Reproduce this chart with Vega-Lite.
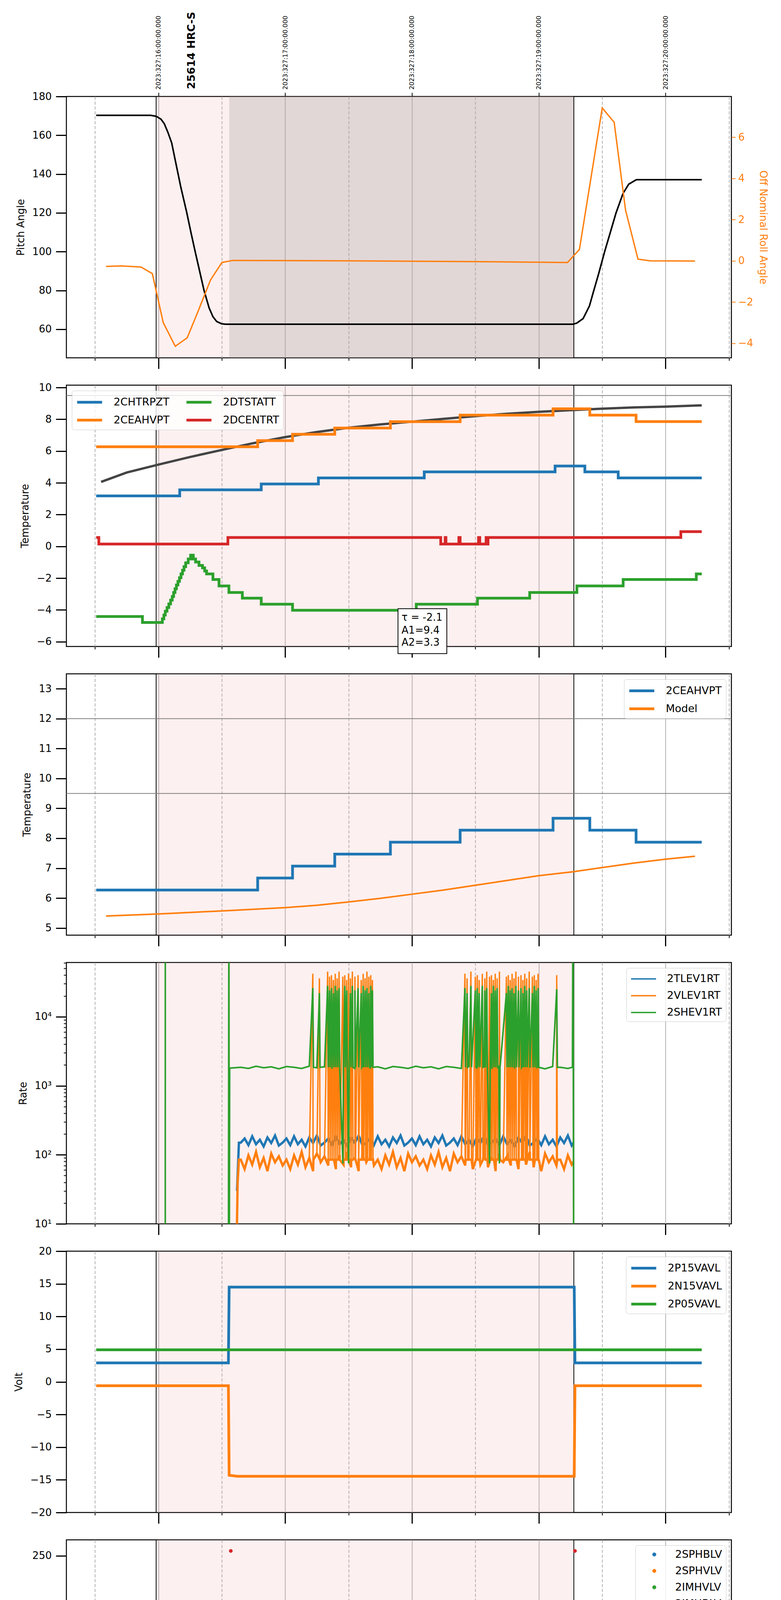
{
  "$schema": "https://vega.github.io/schema/vega-lite/v6.json",
  "padding": {"left": 30, "top": 29, "right": 5, "bottom": 5},
  "spacing": 70,
  "bounds": "flush",
  "config": {
    "font": "DejaVu Sans",
    "view": {"stroke": "black", "strokeWidth": 2.5},
    "axis": {"labelFont": "DejaVu Sans", "titleFont": "DejaVu Sans", "labelFontSize": 26, "titleFontSize": 26, "titleFontWeight": "normal", "labelColor": "black", "titleColor": "black", "tickColor": "black", "tickSize": 27, "tickWidth": 3, "labelPadding": 11, "titlePadding": 16, "domain": false, "grid": false, "labelFlush": false, "labelOverlap": false, "labelLimit": 400},
    "legend": {"labelFont": "DejaVu Sans", "labelFontSize": 27, "labelColor": "black", "symbolType": "M-2,0L2,0", "symbolStrokeWidth": 7, "symbolSize": 1024, "symbolOffset": 16, "padding": 10, "rowPadding": 12, "strokeColor": "#cccccc", "fillColor": "rgba(255,255,255,0.8)", "cornerRadius": 6, "offset": 14, "labelOffset": 42, "orient": "top-right", "labelLimit": 400},
    "text": {"font": "DejaVu Sans"}
  },
  "resolve": {"scale": {"color": "independent"}, "legend": {"color": "independent"}},
  "datasets": {
    "shade": [{"a": 15.982, "b": 19.277}],
    "dark": [{"a": 16.558, "b": 19.277}],
    "vlines": [{"t": 15.982}, {"t": 19.277}],
    "p1_label": [{"t": 16.264, "v": 183.8, "label": "25614 HRC-S"}],
    "p1_pitch": [{"t":15.509,"v":170.3},{"t":15.94,"v":170.3},{"t":15.982,"v":169.8},{"t":16.02,"v":168.3},{"t":16.046,"v":166},{"t":16.075,"v":161.5},{"t":16.105,"v":156},{"t":16.13,"v":148},{"t":16.176,"v":133.5},{"t":16.223,"v":120.3},{"t":16.258,"v":109.5},{"t":16.29,"v":100},{"t":16.325,"v":90},{"t":16.36,"v":80},{"t":16.4,"v":71},{"t":16.43,"v":66.5},{"t":16.46,"v":64},{"t":16.5,"v":62.8},{"t":16.53,"v":62.6},{"t":19.27,"v":62.6},{"t":19.3,"v":63.2},{"t":19.35,"v":65.5},{"t":19.4,"v":72},{"t":19.43,"v":79},{"t":19.47,"v":88},{"t":19.52,"v":100},{"t":19.565,"v":110},{"t":19.61,"v":120},{"t":19.665,"v":130},{"t":19.71,"v":134.8},{"t":19.77,"v":137.1},{"t":20.286,"v":137.1}],
    "p1_roll": [{"t":15.587,"v":-0.27},{"t":15.705,"v":-0.25},{"t":15.862,"v":-0.3},{"t":15.952,"v":-0.62},{"t":16.038,"v":-3.0},{"t":16.133,"v":-4.15},{"t":16.227,"v":-3.74},{"t":16.313,"v":-2.45},{"t":16.411,"v":-0.93},{"t":16.501,"v":-0.08},{"t":16.587,"v":0.02},{"t":17.5,"v":0.0},{"t":18.5,"v":-0.04},{"t":19.227,"v":-0.08},{"t":19.321,"v":0.55},{"t":19.501,"v":7.42},{"t":19.595,"v":6.73},{"t":19.685,"v":2.46},{"t":19.783,"v":0.08},{"t":19.88,"v":0.0},{"t":20.233,"v":-0.01}],
    "p2_lim": [{"v": 9.5}],
    "p2_model": [{"t":15.548,"v":4.06},{"t":15.75,"v":4.65},{"t":16.0,"v":5.15},{"t":16.25,"v":5.63},{"t":16.5,"v":6.07},{"t":16.75,"v":6.5},{"t":17.0,"v":6.88},{"t":17.25,"v":7.2},{"t":17.5,"v":7.47},{"t":17.75,"v":7.68},{"t":18.0,"v":7.85},{"t":18.25,"v":8.03},{"t":18.5,"v":8.2},{"t":18.75,"v":8.35},{"t":19.0,"v":8.47},{"t":19.27,"v":8.58},{"t":19.5,"v":8.67},{"t":19.75,"v":8.75},{"t":20.0,"v":8.8},{"t":20.286,"v":8.88}],
    "p2_chtrpzt": [{"t":15.509,"v":3.18},{"t":16.168,"v":3.56},{"t":16.811,"v":3.93},{"t":17.262,"v":4.31},{"t":18.097,"v":4.69},{"t":19.129,"v":5.06},{"t":19.364,"v":4.69},{"t":19.627,"v":4.31},{"t":20.286,"v":4.31}],
    "p2_ceahvpt": [{"t":15.509,"v":6.27},{"t":16.783,"v":6.66},{"t":17.058,"v":7.06},{"t":17.391,"v":7.45},{"t":17.83,"v":7.85},{"t":18.38,"v":8.26},{"t":19.113,"v":8.66},{"t":19.403,"v":8.26},{"t":19.768,"v":7.86},{"t":20.286,"v":7.86}],
    "p2_dtstatt": [{"t":15.509,"v":-4.41},{"t":15.874,"v":-4.79},{"t":16.031,"v":-4.56},{"t":16.043,"v":-4.32},{"t":16.054,"v":-4.08},{"t":16.068,"v":-3.85},{"t":16.082,"v":-3.62},{"t":16.096,"v":-3.38},{"t":16.109,"v":-3.15},{"t":16.12,"v":-2.9},{"t":16.131,"v":-2.67},{"t":16.142,"v":-2.43},{"t":16.154,"v":-2.2},{"t":16.166,"v":-1.97},{"t":16.178,"v":-1.73},{"t":16.19,"v":-1.5},{"t":16.202,"v":-1.27},{"t":16.215,"v":-1.03},{"t":16.235,"v":-0.79},{"t":16.254,"v":-0.55},{"t":16.275,"v":-0.79},{"t":16.293,"v":-0.98},{"t":16.32,"v":-1.2},{"t":16.348,"v":-1.35},{"t":16.365,"v":-1.55},{"t":16.38,"v":-1.73},{"t":16.43,"v":-2.08},{"t":16.478,"v":-2.49},{"t":16.556,"v":-2.9},{"t":16.662,"v":-3.26},{"t":16.811,"v":-3.64},{"t":17.058,"v":-4.02},{"t":18.034,"v":-3.64},{"t":18.517,"v":-3.26},{"t":18.929,"v":-2.9},{"t":19.301,"v":-2.49},{"t":19.666,"v":-2.08},{"t":20.243,"v":-1.73},{"t":20.286,"v":-1.73}],
    "p2_dcentrt": [{"t":15.509,"v":0.56},{"t":15.53,"v":0.15},{"t":16.548,"v":0.56},{"t":18.227,"v":0.15},{"t":18.262,"v":0.56},{"t":18.268,"v":0.15},{"t":18.37,"v":0.56},{"t":18.38,"v":0.15},{"t":18.525,"v":0.56},{"t":18.535,"v":0.15},{"t":18.585,"v":0.56},{"t":18.59,"v":0.15},{"t":18.6,"v":0.56},{"t":20.121,"v":0.93},{"t":20.286,"v":0.93}],
    "p2_box": [{"t": 17.89, "t2": 18.275, "v": -3.92, "v2": -6.75}],
    "p2_note": [{"t": 17.918, "v": -4.49, "label": "τ = -2.1"}, {"t": 17.918, "v": -5.28, "label": "A1=9.4"}, {"t": 17.918, "v": -6.06, "label": "A2=3.3"}],
    "p3_lim": [{"v": 12}, {"v": 9.5}],
    "p3_ceahvpt": [{"t":15.509,"v":6.27},{"t":16.783,"v":6.67},{"t":17.058,"v":7.07},{"t":17.391,"v":7.47},{"t":17.83,"v":7.87},{"t":18.38,"v":8.27},{"t":19.113,"v":8.67},{"t":19.403,"v":8.27},{"t":19.768,"v":7.87},{"t":20.286,"v":7.87}],
    "p3_model": [{"t":15.587,"v":5.4},{"t":16.0,"v":5.47},{"t":16.5,"v":5.57},{"t":17.0,"v":5.68},{"t":17.25,"v":5.76},{"t":17.5,"v":5.87},{"t":17.75,"v":5.99},{"t":18.0,"v":6.13},{"t":18.25,"v":6.27},{"t":18.5,"v":6.43},{"t":18.75,"v":6.59},{"t":19.0,"v":6.75},{"t":19.27,"v":6.88},{"t":19.5,"v":7.02},{"t":19.75,"v":7.17},{"t":20.0,"v":7.3},{"t":20.233,"v":7.4}],
    "p4_tlev": [{"t":16.62,"v":30},{"t":16.635,"v":150},{"t":16.65,"v":150},{"t":16.68,"v":172},{"t":16.71,"v":138},{"t":16.74,"v":185},{"t":16.77,"v":142},{"t":16.8,"v":165},{"t":16.83,"v":132},{"t":16.86,"v":178},{"t":16.89,"v":148},{"t":16.92,"v":190},{"t":16.95,"v":136},{"t":16.98,"v":150},{"t":17.01,"v":172},{"t":17.04,"v":138},{"t":17.07,"v":185},{"t":17.1,"v":142},{"t":17.13,"v":165},{"t":17.16,"v":132},{"t":17.19,"v":178},{"t":17.22,"v":148},{"t":17.25,"v":190},{"t":17.28,"v":136},{"t":17.31,"v":150},{"t":17.34,"v":172},{"t":17.37,"v":138},{"t":17.4,"v":185},{"t":17.43,"v":142},{"t":17.46,"v":165},{"t":17.49,"v":132},{"t":17.52,"v":178},{"t":17.55,"v":148},{"t":17.58,"v":190},{"t":17.61,"v":136},{"t":17.64,"v":150},{"t":17.67,"v":172},{"t":17.7,"v":138},{"t":17.73,"v":185},{"t":17.76,"v":142},{"t":17.79,"v":165},{"t":17.82,"v":132},{"t":17.85,"v":178},{"t":17.88,"v":148},{"t":17.91,"v":190},{"t":17.94,"v":136},{"t":17.97,"v":150},{"t":18.0,"v":172},{"t":18.03,"v":138},{"t":18.06,"v":185},{"t":18.09,"v":142},{"t":18.12,"v":165},{"t":18.15,"v":132},{"t":18.18,"v":178},{"t":18.21,"v":148},{"t":18.24,"v":190},{"t":18.27,"v":136},{"t":18.3,"v":150},{"t":18.33,"v":172},{"t":18.36,"v":138},{"t":18.39,"v":185},{"t":18.42,"v":142},{"t":18.45,"v":165},{"t":18.48,"v":132},{"t":18.51,"v":178},{"t":18.54,"v":148},{"t":18.57,"v":190},{"t":18.6,"v":136},{"t":18.63,"v":150},{"t":18.66,"v":172},{"t":18.69,"v":138},{"t":18.72,"v":185},{"t":18.75,"v":142},{"t":18.78,"v":165},{"t":18.81,"v":132},{"t":18.84,"v":178},{"t":18.87,"v":148},{"t":18.9,"v":190},{"t":18.93,"v":136},{"t":18.96,"v":150},{"t":18.99,"v":172},{"t":19.02,"v":138},{"t":19.05,"v":185},{"t":19.08,"v":142},{"t":19.11,"v":165},{"t":19.14,"v":132},{"t":19.17,"v":178},{"t":19.2,"v":148},{"t":19.23,"v":190},{"t":19.26,"v":136},{"t":19.274,"v":150}],
    "p4_vlev": [{"t":16.615,"v":3},{"t":16.625,"v":40},{"t":16.635,"v":85},{"t":16.65,"v":85},{"t":16.68,"v":62},{"t":16.71,"v":98},{"t":16.74,"v":72},{"t":16.77,"v":110},{"t":16.8,"v":66},{"t":16.83,"v":90},{"t":16.86,"v":58},{"t":16.89,"v":104},{"t":16.92,"v":78},{"t":16.95,"v":95},{"t":16.98,"v":70},{"t":17.01,"v":85},{"t":17.04,"v":62},{"t":17.07,"v":98},{"t":17.1,"v":72},{"t":17.13,"v":110},{"t":17.16,"v":66},{"t":17.19,"v":90},{"t":17.22,"v":58},{"t":17.25,"v":104},{"t":17.28,"v":78},{"t":17.31,"v":95},{"t":17.34,"v":70},{"t":17.37,"v":85},{"t":17.4,"v":62},{"t":17.43,"v":98},{"t":17.46,"v":72},{"t":17.49,"v":110},{"t":17.52,"v":66},{"t":17.55,"v":90},{"t":17.58,"v":58},{"t":17.61,"v":104},{"t":17.64,"v":78},{"t":17.67,"v":95},{"t":17.7,"v":70},{"t":17.73,"v":85},{"t":17.76,"v":62},{"t":17.79,"v":98},{"t":17.82,"v":72},{"t":17.85,"v":110},{"t":17.88,"v":66},{"t":17.91,"v":90},{"t":17.94,"v":58},{"t":17.97,"v":104},{"t":18.0,"v":78},{"t":18.03,"v":95},{"t":18.06,"v":70},{"t":18.09,"v":85},{"t":18.12,"v":62},{"t":18.15,"v":98},{"t":18.18,"v":72},{"t":18.21,"v":110},{"t":18.24,"v":66},{"t":18.27,"v":90},{"t":18.3,"v":58},{"t":18.33,"v":104},{"t":18.36,"v":78},{"t":18.39,"v":95},{"t":18.42,"v":70},{"t":18.45,"v":85},{"t":18.48,"v":62},{"t":18.51,"v":98},{"t":18.54,"v":72},{"t":18.57,"v":110},{"t":18.6,"v":66},{"t":18.63,"v":90},{"t":18.66,"v":58},{"t":18.69,"v":104},{"t":18.72,"v":78},{"t":18.75,"v":95},{"t":18.78,"v":70},{"t":18.81,"v":85},{"t":18.84,"v":62},{"t":18.87,"v":98},{"t":18.9,"v":72},{"t":18.93,"v":110},{"t":18.96,"v":66},{"t":18.99,"v":90},{"t":19.02,"v":58},{"t":19.05,"v":104},{"t":19.08,"v":78},{"t":19.11,"v":95},{"t":19.14,"v":70},{"t":19.17,"v":85},{"t":19.2,"v":62},{"t":19.23,"v":98},{"t":19.26,"v":72},{"t":19.274,"v":80},
      {"t":17.218,"v":42000},{"t":17.223,"v":85},{"t":17.27,"v":36000},{"t":17.275,"v":85},{"t":17.335,"v":45000},{"t":17.34,"v":85},{"t":17.35,"v":38000},{"t":17.355,"v":85},{"t":17.365,"v":40000},{"t":17.37,"v":85},{"t":17.38,"v":34000},{"t":17.385,"v":85},{"t":17.395,"v":42000},{"t":17.4,"v":85},{"t":17.41,"v":36000},{"t":17.415,"v":85},{"t":17.425,"v":45000},{"t":17.43,"v":85},{"t":17.455,"v":38000},{"t":17.46,"v":85},{"t":17.47,"v":40000},{"t":17.475,"v":85},{"t":17.485,"v":34000},{"t":17.49,"v":85},{"t":17.5,"v":42000},{"t":17.505,"v":85},{"t":17.515,"v":36000},{"t":17.52,"v":85},{"t":17.53,"v":45000},{"t":17.535,"v":85},{"t":17.55,"v":38000},{"t":17.555,"v":85},{"t":17.575,"v":40000},{"t":17.58,"v":85},{"t":17.6,"v":34000},{"t":17.605,"v":85},{"t":17.615,"v":42000},{"t":17.62,"v":85},{"t":17.63,"v":36000},{"t":17.635,"v":85},{"t":17.645,"v":45000},{"t":17.65,"v":85},{"t":17.66,"v":38000},{"t":17.665,"v":85},{"t":17.675,"v":40000},{"t":17.68,"v":85},{"t":17.688,"v":34000},{"t":17.693,"v":85},
      {"t":18.418,"v":42000},{"t":18.423,"v":85},{"t":18.435,"v":36000},{"t":18.44,"v":85},{"t":18.465,"v":45000},{"t":18.47,"v":85},{"t":18.5,"v":38000},{"t":18.505,"v":85},{"t":18.515,"v":40000},{"t":18.52,"v":85},{"t":18.53,"v":34000},{"t":18.535,"v":85},{"t":18.555,"v":42000},{"t":18.56,"v":85},{"t":18.575,"v":36000},{"t":18.58,"v":85},{"t":18.59,"v":45000},{"t":18.595,"v":85},{"t":18.612,"v":38000},{"t":18.617,"v":85},{"t":18.627,"v":40000},{"t":18.632,"v":85},{"t":18.642,"v":34000},{"t":18.647,"v":85},{"t":18.657,"v":42000},{"t":18.662,"v":85},{"t":18.672,"v":36000},{"t":18.677,"v":85},{"t":18.69,"v":45000},{"t":18.695,"v":85},{"t":18.745,"v":38000},{"t":18.75,"v":85},{"t":18.76,"v":40000},{"t":18.765,"v":85},{"t":18.775,"v":34000},{"t":18.78,"v":85},{"t":18.79,"v":42000},{"t":18.795,"v":85},{"t":18.805,"v":36000},{"t":18.81,"v":85},{"t":18.82,"v":45000},{"t":18.825,"v":85},{"t":18.84,"v":38000},{"t":18.845,"v":85},{"t":18.86,"v":40000},{"t":18.865,"v":85},{"t":18.875,"v":34000},{"t":18.88,"v":85},{"t":18.89,"v":42000},{"t":18.895,"v":85},{"t":18.905,"v":36000},{"t":18.91,"v":85},{"t":18.925,"v":45000},{"t":18.93,"v":85},{"t":18.95,"v":38000},{"t":18.955,"v":85},{"t":18.965,"v":40000},{"t":18.97,"v":85},{"t":18.98,"v":34000},{"t":18.985,"v":85},{"t":18.995,"v":42000},{"t":19.0,"v":85},{"t":19.142,"v":40000},{"t":19.147,"v":85}],
    "p4_shev": [{"t":16.054,"v":1,"g":"s"},{"t":16.0545,"v":1000000,"g":"s"},
      {"t":16.552,"v":1},{"t":16.556,"v":1000000},{"t":16.559,"v":1},{"t":16.562,"v":1800},{"t":16.65,"v":1850},{"t":16.71,"v":1780},{"t":16.77,"v":1920},{"t":16.83,"v":1820},{"t":16.89,"v":1880},{"t":16.95,"v":1760},{"t":17.01,"v":1900},{"t":17.07,"v":1850},{"t":17.13,"v":1780},{"t":17.19,"v":1920},{"t":17.25,"v":1820},{"t":17.31,"v":1880},{"t":17.37,"v":1760},{"t":17.43,"v":1900},{"t":17.49,"v":1850},{"t":17.55,"v":1780},{"t":17.61,"v":1920},{"t":17.67,"v":1820},{"t":17.73,"v":1880},{"t":17.79,"v":1760},{"t":17.85,"v":1900},{"t":17.91,"v":1850},{"t":17.97,"v":1780},{"t":18.03,"v":1920},{"t":18.09,"v":1820},{"t":18.15,"v":1880},{"t":18.21,"v":1760},{"t":18.27,"v":1900},{"t":18.33,"v":1850},{"t":18.39,"v":1780},{"t":18.45,"v":1920},{"t":18.51,"v":1820},{"t":18.57,"v":1880},{"t":18.63,"v":1760},{"t":18.685,"v":1900},{"t":18.75,"v":1850},{"t":18.81,"v":1780},{"t":18.87,"v":1920},{"t":18.93,"v":1820},{"t":18.99,"v":1880},{"t":19.05,"v":1760},{"t":19.11,"v":1900},{"t":19.17,"v":1850},{"t":19.23,"v":1780},{"t":19.266,"v":1850},{"t":19.27,"v":1000000},{"t":19.276,"v":1},
      {"t":17.218,"v":26000},{"t":17.223,"v":1850},{"t":17.27,"v":22000},{"t":17.275,"v":1850},{"t":17.335,"v":28000},{"t":17.34,"v":1850},{"t":17.35,"v":24000},{"t":17.355,"v":1850},{"t":17.365,"v":26000},{"t":17.37,"v":1850},{"t":17.38,"v":22000},{"t":17.385,"v":1850},{"t":17.395,"v":28000},{"t":17.4,"v":1850},{"t":17.41,"v":24000},{"t":17.415,"v":1850},{"t":17.425,"v":26000},{"t":17.43,"v":1850},{"t":17.455,"v":75},{"t":17.46,"v":1850},{"t":17.47,"v":28000},{"t":17.475,"v":1850},{"t":17.485,"v":24000},{"t":17.49,"v":1850},{"t":17.5,"v":75},{"t":17.505,"v":1850},{"t":17.515,"v":22000},{"t":17.52,"v":1850},{"t":17.53,"v":28000},{"t":17.535,"v":1850},{"t":17.55,"v":24000},{"t":17.555,"v":1850},{"t":17.575,"v":26000},{"t":17.58,"v":1850},{"t":17.6,"v":22000},{"t":17.605,"v":1850},{"t":17.615,"v":28000},{"t":17.62,"v":1850},{"t":17.63,"v":24000},{"t":17.635,"v":1850},{"t":17.645,"v":26000},{"t":17.65,"v":1850},{"t":17.66,"v":22000},{"t":17.665,"v":1850},{"t":17.675,"v":28000},{"t":17.68,"v":1850},{"t":17.688,"v":24000},{"t":17.693,"v":1850},
      {"t":18.418,"v":26000},{"t":18.423,"v":1850},{"t":18.435,"v":22000},{"t":18.44,"v":1850},{"t":18.465,"v":28000},{"t":18.47,"v":1850},{"t":18.5,"v":24000},{"t":18.505,"v":1850},{"t":18.515,"v":26000},{"t":18.52,"v":1850},{"t":18.53,"v":22000},{"t":18.535,"v":1850},{"t":18.555,"v":28000},{"t":18.56,"v":1850},{"t":18.575,"v":24000},{"t":18.58,"v":1850},{"t":18.59,"v":26000},{"t":18.595,"v":1850},{"t":18.612,"v":75},{"t":18.617,"v":1850},{"t":18.627,"v":22000},{"t":18.632,"v":1850},{"t":18.642,"v":28000},{"t":18.647,"v":1850},{"t":18.657,"v":24000},{"t":18.662,"v":1850},{"t":18.672,"v":26000},{"t":18.677,"v":1850},{"t":18.69,"v":75},{"t":18.695,"v":1850},{"t":18.745,"v":22000},{"t":18.75,"v":1850},{"t":18.76,"v":28000},{"t":18.765,"v":1850},{"t":18.775,"v":24000},{"t":18.78,"v":1850},{"t":18.79,"v":26000},{"t":18.795,"v":1850},{"t":18.805,"v":22000},{"t":18.81,"v":1850},{"t":18.82,"v":28000},{"t":18.825,"v":1850},{"t":18.84,"v":24000},{"t":18.845,"v":1850},{"t":18.86,"v":26000},{"t":18.865,"v":1850},{"t":18.875,"v":22000},{"t":18.88,"v":1850},{"t":18.89,"v":28000},{"t":18.895,"v":1850},{"t":18.905,"v":24000},{"t":18.91,"v":1850},{"t":18.925,"v":26000},{"t":18.93,"v":1850},{"t":18.95,"v":22000},{"t":18.955,"v":1850},{"t":18.965,"v":28000},{"t":18.97,"v":1850},{"t":18.98,"v":24000},{"t":18.985,"v":1850},{"t":18.995,"v":26000},{"t":19.0,"v":1850},{"t":19.142,"v":25000},{"t":19.147,"v":1850}],
    "p5_p15": [{"t":15.509,"v":2.9},{"t":16.552,"v":2.9},{"t":16.558,"v":14.5},{"t":19.28,"v":14.5},{"t":19.286,"v":2.9},{"t":20.286,"v":2.9}],
    "p5_n15": [{"t":15.509,"v":-0.6},{"t":16.552,"v":-0.6},{"t":16.558,"v":-14.3},{"t":16.6,"v":-14.4},{"t":16.62,"v":-14.45},{"t":19.28,"v":-14.45},{"t":19.286,"v":-0.6},{"t":20.286,"v":-0.6}],
    "p5_p05": [{"t":15.509,"v":4.9},{"t":20.286,"v":4.9}],
    "p6_sphb": [{"t":16.576,"v":117},{"t":16.578,"v":102},{"t":16.59,"v":102},{"t":16.6,"v":92},{"t":16.61,"v":92},{"t":16.625,"v":87},{"t":16.635,"v":80},{"t":16.645,"v":77},{"t":16.65,"v":77},{"t":16.68,"v":77},{"t":16.71,"v":77},{"t":16.74,"v":77},{"t":16.77,"v":77},{"t":16.8,"v":77},{"t":16.83,"v":77},{"t":16.86,"v":77},{"t":16.89,"v":77},{"t":16.92,"v":77},{"t":16.95,"v":77},{"t":16.98,"v":77},{"t":17.01,"v":77},{"t":17.04,"v":77},{"t":17.07,"v":77},{"t":17.1,"v":77},{"t":17.13,"v":77},{"t":17.16,"v":77},{"t":17.19,"v":77},{"t":17.22,"v":77},{"t":17.25,"v":77},{"t":17.28,"v":77},{"t":17.31,"v":77},{"t":17.34,"v":77},{"t":17.37,"v":77},{"t":17.4,"v":77},{"t":17.43,"v":77},{"t":17.46,"v":77},{"t":17.49,"v":77},{"t":17.52,"v":77},{"t":17.55,"v":77},{"t":17.58,"v":77},{"t":17.61,"v":77},{"t":17.64,"v":77},{"t":17.67,"v":77},{"t":17.7,"v":77},{"t":17.73,"v":77},{"t":17.76,"v":77},{"t":17.79,"v":77},{"t":17.82,"v":77},{"t":17.85,"v":77},{"t":17.88,"v":77},{"t":17.91,"v":77},{"t":17.94,"v":77},{"t":17.97,"v":77},{"t":18.0,"v":77},{"t":18.03,"v":77},{"t":18.06,"v":77},{"t":18.09,"v":77},{"t":18.12,"v":77},{"t":18.15,"v":77},{"t":18.18,"v":77},{"t":18.21,"v":77},{"t":18.24,"v":77},{"t":18.27,"v":77},{"t":18.3,"v":77},{"t":18.33,"v":77},{"t":18.36,"v":77},{"t":18.39,"v":77},{"t":18.42,"v":77},{"t":18.45,"v":77},{"t":18.48,"v":77},{"t":18.51,"v":77},{"t":18.54,"v":77},{"t":18.57,"v":77},{"t":18.6,"v":77},{"t":18.63,"v":77},{"t":18.66,"v":77},{"t":18.69,"v":77},{"t":18.72,"v":77},{"t":18.75,"v":77},{"t":18.78,"v":77},{"t":18.81,"v":77},{"t":18.84,"v":77},{"t":18.87,"v":77},{"t":18.9,"v":77},{"t":18.93,"v":77},{"t":18.96,"v":77},{"t":18.99,"v":77},{"t":19.02,"v":77},{"t":19.05,"v":77},{"t":19.08,"v":77},{"t":19.11,"v":77},{"t":19.14,"v":77},{"t":19.17,"v":77},{"t":19.2,"v":77},{"t":19.23,"v":77},{"t":19.26,"v":77},{"t":19.284,"v":77}],
    "p6_sphv": [{"t":16.576,"v":127},{"t":16.582,"v":126},{"t":16.578,"v":96},{"t":16.59,"v":96},{"t":16.598,"v":92},{"t":16.608,"v":85},{"t":16.62,"v":80},{"t":16.63,"v":72},{"t":16.64,"v":71},{"t":16.65,"v":70.2},{"t":16.68,"v":71.6},{"t":16.71,"v":70.2},{"t":16.74,"v":71.6},{"t":16.77,"v":70.2},{"t":16.8,"v":71.6},{"t":16.83,"v":70.2},{"t":16.86,"v":71.6},{"t":16.89,"v":70.2},{"t":16.92,"v":71.6},{"t":16.95,"v":70.2},{"t":16.98,"v":71.6},{"t":17.01,"v":70.2},{"t":17.04,"v":71.6},{"t":17.07,"v":70.2},{"t":17.1,"v":71.6},{"t":17.13,"v":70.2},{"t":17.16,"v":71.6},{"t":17.19,"v":70.2},{"t":17.22,"v":71.6},{"t":17.25,"v":70.2},{"t":17.28,"v":71.6},{"t":17.31,"v":70.2},{"t":17.34,"v":71.6},{"t":17.37,"v":70.2},{"t":17.4,"v":71.6},{"t":17.43,"v":70.2},{"t":17.46,"v":71.6},{"t":17.49,"v":70.2},{"t":17.52,"v":71.6},{"t":17.55,"v":70.2},{"t":17.58,"v":71.6},{"t":17.61,"v":70.2},{"t":17.64,"v":71.6},{"t":17.67,"v":70.2},{"t":17.7,"v":71.6},{"t":17.73,"v":70.2},{"t":17.76,"v":71.6},{"t":17.79,"v":70.2},{"t":17.82,"v":71.6},{"t":17.85,"v":70.2},{"t":17.88,"v":71.6},{"t":17.91,"v":70.2},{"t":17.94,"v":71.6},{"t":17.97,"v":70.2},{"t":18.0,"v":71.6},{"t":18.03,"v":70.2},{"t":18.06,"v":71.6},{"t":18.09,"v":70.2},{"t":18.12,"v":71.6},{"t":18.15,"v":70.2},{"t":18.18,"v":71.6},{"t":18.21,"v":70.2},{"t":18.24,"v":71.6},{"t":18.27,"v":70.2},{"t":18.3,"v":71.6},{"t":18.33,"v":70.2},{"t":18.36,"v":71.6},{"t":18.39,"v":70.2},{"t":18.42,"v":71.6},{"t":18.45,"v":70.2},{"t":18.48,"v":71.6},{"t":18.51,"v":70.2},{"t":18.54,"v":71.6},{"t":18.57,"v":70.2},{"t":18.6,"v":71.6},{"t":18.63,"v":70.2},{"t":18.66,"v":71.6},{"t":18.69,"v":70.2},{"t":18.72,"v":71.6},{"t":18.75,"v":70.2},{"t":18.78,"v":71.6},{"t":18.81,"v":70.2},{"t":18.84,"v":71.6},{"t":18.87,"v":70.2},{"t":18.9,"v":71.6},{"t":18.93,"v":70.2},{"t":18.96,"v":71.6},{"t":18.99,"v":70.2},{"t":19.02,"v":71.6},{"t":19.05,"v":70.2},{"t":19.08,"v":71.6},{"t":19.11,"v":70.2},{"t":19.14,"v":71.6},{"t":19.17,"v":70.2},{"t":19.2,"v":71.6},{"t":19.23,"v":70.2},{"t":19.26,"v":71.6},{"t":19.284,"v":70.5},
      {"t":17.262,"v":127},{"t":17.34,"v":127},{"t":17.403,"v":127},{"t":17.423,"v":127},{"t":17.462,"v":127},{"t":17.528,"v":127},{"t":17.556,"v":127},{"t":18.474,"v":127},{"t":18.568,"v":127},{"t":18.588,"v":127},{"t":18.62,"v":127},{"t":18.698,"v":127},{"t":18.757,"v":127},{"t":18.796,"v":127},{"t":18.816,"v":127},{"t":18.973,"v":127}],
    "p6_imhb": [{"t":16.571,"v":255},{"t":19.286,"v":255}],
    "p7_spin": [{"t":16.571,"v":4.6},{"t":16.736,"v":4.16},{"t":16.96,"v":3.72},{"t":17.218,"v":-0.5},{"t":17.223,"v":3.72},{"t":17.27,"v":-0.5},{"t":17.275,"v":3.72},{"t":17.335,"v":-0.5},{"t":17.34,"v":3.72},{"t":17.35,"v":-0.5},{"t":17.355,"v":3.72},{"t":17.365,"v":-0.5},{"t":17.37,"v":3.72},{"t":17.38,"v":-0.5},{"t":17.385,"v":3.72},{"t":17.395,"v":-0.5},{"t":17.4,"v":3.72},{"t":17.41,"v":-0.5},{"t":17.415,"v":3.72},{"t":17.425,"v":-0.5},{"t":17.43,"v":3.72},{"t":17.455,"v":-0.5},{"t":17.46,"v":3.72},{"t":17.47,"v":-0.5},{"t":17.475,"v":3.72},{"t":17.485,"v":-0.5},{"t":17.49,"v":3.72},{"t":17.5,"v":-0.5},{"t":17.505,"v":3.72},{"t":17.515,"v":-0.5},{"t":17.52,"v":3.72},{"t":17.53,"v":-0.5},{"t":17.535,"v":3.72},{"t":17.55,"v":-0.5},{"t":17.555,"v":3.72},{"t":17.575,"v":-0.5},{"t":17.58,"v":3.72},{"t":17.6,"v":-0.5},{"t":17.605,"v":3.72},{"t":17.615,"v":-0.5},{"t":17.62,"v":3.72},{"t":17.63,"v":-0.5},{"t":17.635,"v":3.72},{"t":17.645,"v":-0.5},{"t":17.65,"v":3.72},{"t":17.66,"v":-0.5},{"t":17.665,"v":3.72},{"t":17.675,"v":-0.5},{"t":17.68,"v":3.72},{"t":17.688,"v":-0.5},{"t":17.693,"v":3.72},{"t":17.705,"v":3.27},{"t":18.313,"v":3.7},{"t":18.318,"v":3.27},{"t":18.418,"v":-0.5},{"t":18.423,"v":3.27},{"t":18.435,"v":-0.5},{"t":18.44,"v":3.27},{"t":18.465,"v":-0.5},{"t":18.47,"v":3.27},{"t":18.5,"v":-0.5},{"t":18.505,"v":3.27},{"t":18.515,"v":-0.5},{"t":18.52,"v":3.27},{"t":18.53,"v":-0.5},{"t":18.535,"v":3.27},{"t":18.555,"v":-0.5},{"t":18.56,"v":3.27},{"t":18.627,"v":3.72},{"t":18.745,"v":-0.5},{"t":18.75,"v":3.72},{"t":18.76,"v":-0.5},{"t":18.765,"v":3.72},{"t":18.775,"v":-0.5},{"t":18.78,"v":3.72},{"t":18.79,"v":-0.5},{"t":18.795,"v":3.72},{"t":18.805,"v":-0.5},{"t":18.81,"v":3.72},{"t":18.82,"v":-0.5},{"t":18.825,"v":3.72},{"t":18.84,"v":-0.5},{"t":18.845,"v":3.72},{"t":18.86,"v":-0.5},{"t":18.865,"v":3.72},{"t":18.875,"v":-0.5},{"t":18.88,"v":3.72},{"t":18.89,"v":-0.5},{"t":18.895,"v":3.72},{"t":18.905,"v":-0.5},{"t":18.91,"v":3.72},{"t":18.925,"v":-0.5},{"t":18.93,"v":3.72},{"t":18.95,"v":-0.5},{"t":18.955,"v":3.72},{"t":18.965,"v":-0.5},{"t":18.97,"v":3.72},{"t":18.98,"v":-0.5},{"t":18.985,"v":3.72},{"t":18.995,"v":-0.5},{"t":19.0,"v":3.72},{"t":19.274,"v":3.72}],
    "p7_sphv": [{"t":16.547,"v":15.23},{"t":16.676,"v":15.53},{"t":16.768,"v":15.81},{"t":16.84,"v":16.1},{"t":16.915,"v":16.38},{"t":16.994,"v":16.67},{"t":17.076,"v":16.95},{"t":17.178,"v":17.24},{"t":17.218,"v":10.4},{"t":17.223,"v":17.24},{"t":17.27,"v":10.4},{"t":17.275,"v":17.24},{"t":17.28,"v":17.52},{"t":17.335,"v":10.4},{"t":17.34,"v":17.52},{"t":17.35,"v":10.4},{"t":17.355,"v":17.52},{"t":17.365,"v":10.4},{"t":17.37,"v":17.52},{"t":17.38,"v":10.4},{"t":17.385,"v":17.52},{"t":17.395,"v":10.4},{"t":17.4,"v":17.52},{"t":17.41,"v":10.4},{"t":17.415,"v":17.52},{"t":17.425,"v":10.4},{"t":17.43,"v":17.52},{"t":17.455,"v":-1},{"t":17.46,"v":17.52},{"t":17.47,"v":-1},{"t":17.475,"v":17.52},{"t":17.485,"v":-1},{"t":17.49,"v":17.52},{"t":17.5,"v":-1},{"t":17.505,"v":17.52},{"t":17.515,"v":10.4},{"t":17.52,"v":17.52},{"t":17.53,"v":10.4},{"t":17.535,"v":17.52},{"t":17.55,"v":10.4},{"t":17.555,"v":17.52},{"t":17.575,"v":10.4},{"t":17.58,"v":17.52},{"t":17.6,"v":10.4},{"t":17.605,"v":17.52},{"t":17.615,"v":10.4},{"t":17.62,"v":17.52},{"t":17.63,"v":10.4},{"t":17.635,"v":17.52},{"t":17.645,"v":10.4},{"t":17.65,"v":17.52},{"t":17.66,"v":10.4},{"t":17.665,"v":17.52},{"t":17.675,"v":10.4},{"t":17.68,"v":17.52},{"t":17.688,"v":10.4},{"t":17.693,"v":17.52},{"t":17.705,"v":18.42},{"t":17.9,"v":18.7},{"t":18.16,"v":18.99},{"t":18.418,"v":10.8},{"t":18.423,"v":18.99},{"t":18.435,"v":10.8},{"t":18.44,"v":18.99},{"t":18.45,"v":19.27},{"t":18.465,"v":10.8},{"t":18.47,"v":19.27},{"t":18.5,"v":10.8},{"t":18.505,"v":19.27},{"t":18.515,"v":10.8},{"t":18.52,"v":19.27},{"t":18.53,"v":10.8},{"t":18.535,"v":19.27},{"t":18.555,"v":10.8},{"t":18.56,"v":19.27},{"t":18.575,"v":10.8},{"t":18.58,"v":19.27},{"t":18.59,"v":10.8},{"t":18.595,"v":19.27},{"t":18.612,"v":10.8},{"t":18.617,"v":19.27},{"t":18.627,"v":10.8},{"t":18.632,"v":19.27},{"t":18.642,"v":10.8},{"t":18.647,"v":19.27},{"t":18.657,"v":10.8},{"t":18.662,"v":19.27},{"t":18.672,"v":10.8},{"t":18.677,"v":19.27},{"t":18.69,"v":10.8},{"t":18.695,"v":19.27},{"t":18.725,"v":19.6},{"t":18.745,"v":10.8},{"t":18.75,"v":19.6},{"t":18.76,"v":10.8},{"t":18.765,"v":19.6},{"t":18.775,"v":10.8},{"t":18.78,"v":19.6},{"t":18.79,"v":10.8},{"t":18.795,"v":19.6},{"t":18.805,"v":10.8},{"t":18.81,"v":19.6},{"t":18.82,"v":10.8},{"t":18.825,"v":19.6},{"t":18.84,"v":10.8},{"t":18.845,"v":19.6},{"t":18.86,"v":10.8},{"t":18.865,"v":19.6},{"t":18.875,"v":10.8},{"t":18.88,"v":19.6},{"t":18.89,"v":10.8},{"t":18.895,"v":19.6},{"t":18.905,"v":10.8},{"t":18.91,"v":19.6},{"t":18.925,"v":10.8},{"t":18.93,"v":19.6},{"t":18.95,"v":10.8},{"t":18.955,"v":19.6},{"t":18.965,"v":10.8},{"t":18.97,"v":19.6},{"t":18.98,"v":10.8},{"t":18.985,"v":19.6},{"t":18.995,"v":10.8},{"t":19.0,"v":19.6},{"t":19.274,"v":19.6}],
    "p7_imin": [{"t":16.571,"v":0.65},{"t":16.835,"v":1.1},{"t":16.875,"v":0.68},{"t":16.88,"v":1.1},{"t":16.905,"v":0.68},{"t":16.91,"v":1.1},{"t":17.218,"v":3.7},{"t":17.223,"v":1.1},{"t":17.27,"v":3.7},{"t":17.275,"v":1.1},{"t":17.335,"v":3.7},{"t":17.34,"v":1.1},{"t":17.35,"v":3.7},{"t":17.355,"v":1.1},{"t":17.365,"v":3.7},{"t":17.37,"v":1.1},{"t":17.38,"v":3.7},{"t":17.385,"v":1.1},{"t":17.395,"v":3.7},{"t":17.4,"v":1.1},{"t":17.41,"v":3.7},{"t":17.415,"v":1.1},{"t":17.425,"v":3.7},{"t":17.43,"v":1.1},{"t":17.455,"v":3.7},{"t":17.46,"v":1.1},{"t":17.47,"v":3.7},{"t":17.475,"v":1.1},{"t":17.485,"v":3.7},{"t":17.49,"v":1.1},{"t":17.5,"v":3.7},{"t":17.505,"v":1.1},{"t":17.515,"v":3.7},{"t":17.52,"v":1.1},{"t":17.53,"v":3.7},{"t":17.535,"v":1.1},{"t":17.55,"v":3.7},{"t":17.555,"v":1.1},{"t":17.575,"v":3.7},{"t":17.58,"v":1.1},{"t":17.6,"v":3.7},{"t":17.605,"v":1.1},{"t":17.615,"v":3.7},{"t":17.62,"v":1.1},{"t":17.63,"v":3.7},{"t":17.635,"v":1.1},{"t":17.645,"v":3.7},{"t":17.65,"v":1.1},{"t":17.66,"v":3.7},{"t":17.665,"v":1.1},{"t":17.675,"v":3.7},{"t":17.68,"v":1.1},{"t":17.688,"v":3.7},{"t":17.693,"v":1.1},{"t":18.418,"v":3.7},{"t":18.423,"v":1.1},{"t":18.435,"v":3.7},{"t":18.44,"v":1.1},{"t":18.465,"v":3.7},{"t":18.47,"v":1.1},{"t":18.5,"v":3.7},{"t":18.505,"v":1.1},{"t":18.515,"v":3.7},{"t":18.52,"v":1.1},{"t":18.53,"v":3.7},{"t":18.535,"v":1.1},{"t":18.555,"v":3.7},{"t":18.56,"v":1.1},{"t":18.575,"v":3.7},{"t":18.58,"v":1.1},{"t":18.59,"v":3.7},{"t":18.595,"v":1.1},{"t":18.612,"v":3.7},{"t":18.617,"v":1.1},{"t":18.627,"v":3.7},{"t":18.632,"v":1.1},{"t":18.642,"v":3.7},{"t":18.647,"v":1.1},{"t":18.657,"v":3.7},{"t":18.662,"v":1.1},{"t":18.672,"v":3.7},{"t":18.677,"v":1.1},{"t":18.69,"v":3.7},{"t":18.695,"v":1.1},{"t":18.745,"v":3.7},{"t":18.75,"v":1.1},{"t":18.76,"v":3.7},{"t":18.765,"v":1.1},{"t":18.775,"v":3.7},{"t":18.78,"v":1.1},{"t":18.79,"v":3.7},{"t":18.795,"v":1.1},{"t":18.805,"v":3.7},{"t":18.81,"v":1.1},{"t":18.82,"v":3.7},{"t":18.825,"v":1.1},{"t":18.84,"v":3.7},{"t":18.845,"v":1.1},{"t":18.86,"v":3.7},{"t":18.865,"v":1.1},{"t":18.875,"v":3.7},{"t":18.88,"v":1.1},{"t":18.89,"v":3.7},{"t":18.895,"v":1.1},{"t":18.905,"v":3.7},{"t":18.91,"v":1.1},{"t":18.925,"v":3.7},{"t":18.93,"v":1.1},{"t":18.95,"v":3.7},{"t":18.955,"v":1.1},{"t":18.965,"v":3.7},{"t":18.97,"v":1.1},{"t":18.98,"v":3.7},{"t":18.985,"v":1.1},{"t":18.995,"v":3.7},{"t":19.0,"v":1.1},{"t":19.235,"v":1.5},{"t":19.274,"v":1.5}],
    "p7_imhv": [{"t":16.544,"v":-1},{"t":16.549,"v":14.71},{"t":16.8,"v":15.0},{"t":16.806,"v":14.71},{"t":16.94,"v":15.0},{"t":16.946,"v":14.71},{"t":16.985,"v":15.0},{"t":17.218,"v":17.3},{"t":17.223,"v":15.0},{"t":17.27,"v":17.3},{"t":17.275,"v":15.0},{"t":17.335,"v":17.67},{"t":17.34,"v":15.0},{"t":17.347,"v":15.28},{"t":17.35,"v":17.87},{"t":17.355,"v":15.28},{"t":17.365,"v":18.18},{"t":17.37,"v":15.28},{"t":17.38,"v":17.67},{"t":17.385,"v":15.28},{"t":17.395,"v":17.87},{"t":17.4,"v":15.28},{"t":17.41,"v":18.18},{"t":17.415,"v":15.28},{"t":17.425,"v":17.67},{"t":17.43,"v":15.28},{"t":17.455,"v":17.9},{"t":17.46,"v":10.5},{"t":17.47,"v":17.9},{"t":17.475,"v":10.5},{"t":17.485,"v":17.9},{"t":17.49,"v":10.5},{"t":17.5,"v":17.9},{"t":17.505,"v":15.28},{"t":17.515,"v":17.87},{"t":17.52,"v":15.28},{"t":17.53,"v":18.18},{"t":17.535,"v":15.28},{"t":17.55,"v":17.67},{"t":17.555,"v":15.28},{"t":17.575,"v":17.87},{"t":17.58,"v":15.28},{"t":17.6,"v":18.18},{"t":17.605,"v":15.28},{"t":17.615,"v":17.67},{"t":17.62,"v":15.28},{"t":17.63,"v":17.87},{"t":17.635,"v":15.28},{"t":17.645,"v":18.18},{"t":17.65,"v":15.28},{"t":17.66,"v":17.67},{"t":17.665,"v":15.28},{"t":17.675,"v":17.87},{"t":17.68,"v":15.28},{"t":17.688,"v":18.18},{"t":17.693,"v":15.28},{"t":17.705,"v":15.55},{"t":18.105,"v":15.88},{"t":18.41,"v":16.1},{"t":18.418,"v":19.4},{"t":18.423,"v":16.1},{"t":18.435,"v":19.4},{"t":18.44,"v":16.1},{"t":18.465,"v":19.4},{"t":18.47,"v":16.1},{"t":18.5,"v":19.4},{"t":18.505,"v":16.1},{"t":18.515,"v":19.4},{"t":18.52,"v":16.1},{"t":18.53,"v":19.4},{"t":18.535,"v":16.1},{"t":18.555,"v":19.4},{"t":18.56,"v":16.1},{"t":18.575,"v":19.4},{"t":18.58,"v":16.1},{"t":18.59,"v":19.4},{"t":18.595,"v":16.1},{"t":18.612,"v":19.4},{"t":18.617,"v":16.1},{"t":18.627,"v":19.4},{"t":18.632,"v":16.1},{"t":18.642,"v":19.4},{"t":18.647,"v":16.1},{"t":18.657,"v":19.4},{"t":18.662,"v":16.1},{"t":18.672,"v":19.4},{"t":18.677,"v":16.1},{"t":18.69,"v":19.4},{"t":18.695,"v":16.1},{"t":18.745,"v":19.7},{"t":18.75,"v":16.1},{"t":18.76,"v":19.7},{"t":18.765,"v":16.1},{"t":18.775,"v":19.7},{"t":18.78,"v":16.1},{"t":18.79,"v":19.7},{"t":18.795,"v":16.1},{"t":18.805,"v":19.7},{"t":18.81,"v":16.1},{"t":18.82,"v":19.7},{"t":18.825,"v":16.1},{"t":18.84,"v":19.7},{"t":18.845,"v":16.1},{"t":18.86,"v":19.7},{"t":18.865,"v":16.1},{"t":18.875,"v":19.7},{"t":18.88,"v":16.1},{"t":18.89,"v":19.7},{"t":18.895,"v":16.1},{"t":18.905,"v":19.7},{"t":18.91,"v":16.1},{"t":18.925,"v":19.7},{"t":18.93,"v":16.1},{"t":18.95,"v":19.7},{"t":18.955,"v":16.1},{"t":18.965,"v":19.7},{"t":18.97,"v":16.1},{"t":18.98,"v":19.7},{"t":18.985,"v":16.1},{"t":18.995,"v":19.7},{"t":19.0,"v":16.1},{"t":19.137,"v":16.36},{"t":19.284,"v":-1},{"t":19.286,"v":25},{"t":19.29,"v":25}],
    "p8_fhtr": [{"t":15.509,"v":-8.39},{"t":16.685,"v":-8.0},{"t":16.881,"v":-7.59},{"t":17.05,"v":-7.2},{"t":17.195,"v":-6.78},{"t":17.372,"v":-6.39},{"t":17.528,"v":-6.0},{"t":17.705,"v":-5.59},{"t":17.77,"v":-5.2},{"t":17.775,"v":-5.59},{"t":17.886,"v":-4.04},{"t":17.892,"v":-5.2},{"t":18.07,"v":-4.8},{"t":18.254,"v":-4.41},{"t":18.45,"v":-4.02},{"t":18.646,"v":-3.65},{"t":18.874,"v":-3.26},{"t":19.089,"v":-2.89},{"t":19.321,"v":-2.5},{"t":19.529,"v":-2.89},{"t":19.85,"v":-3.26},{"t":20.274,"v":-3.67},{"t":20.286,"v":-3.67}],
    "p8_frad": [{"t":15.509,"v":-10.04},{"t":16.199,"v":-9.63},{"t":16.352,"v":-10.04},{"t":16.517,"v":-10.46},{"t":16.803,"v":-10.04},{"t":17.019,"v":-9.63},{"t":17.223,"v":-9.22},{"t":17.423,"v":-8.8},{"t":17.607,"v":-8.39},{"t":17.819,"v":-8.0},{"t":18.026,"v":-7.59},{"t":18.246,"v":-7.2},{"t":18.462,"v":-6.78},{"t":18.693,"v":-6.39},{"t":18.929,"v":-6.0},{"t":19.184,"v":-5.59},{"t":19.556,"v":-6.0},{"t":20.286,"v":-6.0}],
    "p8_fepr": [{"t":16.587,"v":-6.98},{"t":16.615,"v":-6.65},{"t":16.646,"v":-6.24},{"t":16.685,"v":-5.83},{"t":16.744,"v":-5.41},{"t":16.811,"v":-5.02},{"t":16.913,"v":-4.61},{"t":17.03,"v":-4.22},{"t":17.144,"v":-3.83},{"t":17.218,"v":-4.6},{"t":17.223,"v":-3.83},{"t":17.27,"v":-4.6},{"t":17.275,"v":-3.83},{"t":17.333,"v":-3.41},{"t":17.335,"v":-4.6},{"t":17.34,"v":-3.41},{"t":17.35,"v":-4.6},{"t":17.355,"v":-3.41},{"t":17.365,"v":-4.6},{"t":17.37,"v":-3.41},{"t":17.38,"v":-4.6},{"t":17.385,"v":-3.41},{"t":17.395,"v":-4.6},{"t":17.4,"v":-3.41},{"t":17.41,"v":-4.6},{"t":17.415,"v":-3.41},{"t":17.425,"v":-4.6},{"t":17.43,"v":-3.41},{"t":17.455,"v":-4.6},{"t":17.46,"v":-3.41},{"t":17.47,"v":-4.6},{"t":17.475,"v":-3.41},{"t":17.485,"v":-4.6},{"t":17.49,"v":-3.41},{"t":17.5,"v":-4.6},{"t":17.505,"v":-3.41},{"t":17.515,"v":-4.6},{"t":17.52,"v":-3.41},{"t":17.53,"v":-4.6},{"t":17.535,"v":-3.41},{"t":17.55,"v":-4.6},{"t":17.555,"v":-3.41},{"t":17.575,"v":-4.6},{"t":17.58,"v":-3.41},{"t":17.6,"v":-4.6},{"t":17.605,"v":-3.41},{"t":17.615,"v":-4.6},{"t":17.62,"v":-3.41},{"t":17.63,"v":-4.6},{"t":17.635,"v":-3.41},{"t":17.645,"v":-4.6},{"t":17.65,"v":-3.41},{"t":17.66,"v":-4.6},{"t":17.665,"v":-3.41},{"t":17.675,"v":-4.6},{"t":17.68,"v":-3.41},{"t":17.688,"v":-4.6},{"t":17.693,"v":-3.41},{"t":17.705,"v":-2.63},{"t":17.764,"v":-2.2},{"t":17.96,"v":-1.8},{"t":18.156,"v":-1.41},{"t":18.372,"v":-1.0},{"t":18.418,"v":-4.6},{"t":18.423,"v":-1.0},{"t":18.435,"v":-4.6},{"t":18.44,"v":-1.0},{"t":18.465,"v":-4.6},{"t":18.47,"v":-1.0},{"t":18.5,"v":-4.6},{"t":18.505,"v":-1.0},{"t":18.515,"v":-4.6},{"t":18.52,"v":-1.0},{"t":18.53,"v":-4.6},{"t":18.535,"v":-1.0},{"t":18.555,"v":-4.6},{"t":18.56,"v":-1.0},{"t":18.575,"v":-4.6},{"t":18.58,"v":-1.0},{"t":18.59,"v":-4.6},{"t":18.595,"v":-1.0},{"t":18.6,"v":-0.6},{"t":18.612,"v":-4.6},{"t":18.617,"v":-0.6},{"t":18.627,"v":-4.6},{"t":18.632,"v":-0.6},{"t":18.642,"v":-4.6},{"t":18.647,"v":-0.6},{"t":18.657,"v":-4.6},{"t":18.662,"v":-0.6},{"t":18.672,"v":-4.6},{"t":18.677,"v":-0.6},{"t":18.69,"v":-4.6},{"t":18.695,"v":-0.6},{"t":18.745,"v":-4.6},{"t":18.75,"v":-0.6},{"t":18.76,"v":-4.6},{"t":18.765,"v":-0.6},{"t":18.775,"v":-4.6},{"t":18.78,"v":-0.6},{"t":18.79,"v":-4.6},{"t":18.795,"v":-0.6},{"t":18.805,"v":-4.6},{"t":18.81,"v":-0.6},{"t":18.82,"v":-4.6},{"t":18.825,"v":-0.6},{"t":18.84,"v":-4.6},{"t":18.845,"v":-0.6},{"t":18.86,"v":-4.6},{"t":18.865,"v":-0.6},{"t":18.875,"v":-4.6},{"t":18.88,"v":-0.6},{"t":18.89,"v":-4.6},{"t":18.895,"v":-0.6},{"t":18.905,"v":-4.6},{"t":18.91,"v":-0.6},{"t":18.925,"v":-4.6},{"t":18.93,"v":-0.6},{"t":18.95,"v":-4.6},{"t":18.955,"v":-0.6},{"t":18.965,"v":-4.6},{"t":18.97,"v":-0.6},{"t":18.98,"v":-4.6},{"t":18.985,"v":-0.6},{"t":18.995,"v":-4.6},{"t":19.0,"v":-0.2},{"t":19.058,"v":0.26},{"t":19.274,"v":0.26}],
    "p8_fe00": [{"t":16.544,"v":-12},{"t":16.549,"v":-5.98},{"t":16.764,"v":-5.63},{"t":16.87,"v":-5.28},{"t":16.946,"v":-6.0},{"t":16.951,"v":-5.28},{"t":16.979,"v":-4.89},{"t":17.04,"v":-4.15},{"t":17.045,"v":-4.89},{"t":17.097,"v":-4.52},{"t":17.195,"v":-3.83},{"t":17.218,"v":2},{"t":17.223,"v":-3.83},{"t":17.27,"v":2},{"t":17.275,"v":-3.83},{"t":17.335,"v":2},{"t":17.34,"v":-3.07},{"t":17.35,"v":2},{"t":17.355,"v":-3.07},{"t":17.365,"v":2},{"t":17.37,"v":-3.07},{"t":17.38,"v":2},{"t":17.385,"v":-3.07},{"t":17.395,"v":2},{"t":17.4,"v":-3.07},{"t":17.41,"v":2},{"t":17.415,"v":-3.07},{"t":17.425,"v":2},{"t":17.43,"v":-3.07},{"t":17.455,"v":2},{"t":17.46,"v":-12},{"t":17.47,"v":2},{"t":17.475,"v":-12},{"t":17.485,"v":2},{"t":17.49,"v":-12},{"t":17.5,"v":2},{"t":17.505,"v":-3.07},{"t":17.515,"v":2},{"t":17.52,"v":-3.07},{"t":17.53,"v":2},{"t":17.535,"v":-3.07},{"t":17.55,"v":2},{"t":17.555,"v":-3.07},{"t":17.575,"v":2},{"t":17.58,"v":-3.07},{"t":17.6,"v":2},{"t":17.605,"v":-3.07},{"t":17.615,"v":2},{"t":17.62,"v":-3.07},{"t":17.63,"v":2},{"t":17.635,"v":-3.07},{"t":17.645,"v":2},{"t":17.65,"v":-3.07},{"t":17.66,"v":2},{"t":17.665,"v":-3.07},{"t":17.675,"v":2},{"t":17.68,"v":-3.07},{"t":17.688,"v":2},{"t":17.693,"v":-3.07},{"t":17.705,"v":-2.76},{"t":17.843,"v":-2.48},{"t":17.999,"v":-2.15},{"t":18.07,"v":-2.7},{"t":18.075,"v":-2.15},{"t":18.105,"v":-1.1},{"t":18.11,"v":-2.15},{"t":18.117,"v":-1.8},{"t":18.254,"v":-1.46},{"t":18.41,"v":-1.15},{"t":18.418,"v":2},{"t":18.423,"v":-1.15},{"t":18.435,"v":2},{"t":18.44,"v":-1.15},{"t":18.465,"v":2},{"t":18.47,"v":-1.15},{"t":18.5,"v":2},{"t":18.505,"v":-1.15},{"t":18.515,"v":2},{"t":18.52,"v":-1.15},{"t":18.53,"v":2},{"t":18.535,"v":-1.15},{"t":18.555,"v":2},{"t":18.56,"v":-1.15},{"t":18.575,"v":2},{"t":18.58,"v":-1.15},{"t":18.59,"v":2},{"t":18.595,"v":-1.15},{"t":18.603,"v":-12},{"t":18.608,"v":2},{"t":18.613,"v":-12},{"t":18.618,"v":-1.15},{"t":18.627,"v":2},{"t":18.632,"v":-1.15},{"t":18.642,"v":2},{"t":18.647,"v":-1.15},{"t":18.657,"v":2},{"t":18.662,"v":-1.15},{"t":18.672,"v":2},{"t":18.677,"v":-1.15},{"t":18.69,"v":2},{"t":18.695,"v":-1.15},{"t":18.725,"v":-0.83},{"t":18.745,"v":2},{"t":18.75,"v":-0.83},{"t":18.76,"v":2},{"t":18.765,"v":-0.83},{"t":18.775,"v":2},{"t":18.78,"v":-0.83},{"t":18.79,"v":2},{"t":18.795,"v":-0.83},{"t":18.805,"v":2},{"t":18.81,"v":-0.83},{"t":18.82,"v":2},{"t":18.825,"v":-0.83},{"t":18.84,"v":2},{"t":18.845,"v":-0.83},{"t":18.86,"v":2},{"t":18.865,"v":-0.83},{"t":18.875,"v":2},{"t":18.88,"v":-0.83},{"t":18.89,"v":2},{"t":18.895,"v":-0.83},{"t":18.905,"v":2},{"t":18.91,"v":-0.83},{"t":18.925,"v":2},{"t":18.93,"v":-0.83},{"t":18.95,"v":2},{"t":18.955,"v":-0.83},{"t":18.965,"v":2},{"t":18.97,"v":-0.83},{"t":18.98,"v":2},{"t":18.985,"v":-0.83},{"t":18.995,"v":2},{"t":19.0,"v":-0.2},{"t":19.137,"v":0.17},{"t":19.284,"v":-12},{"t":19.286,"v":2},{"t":19.29,"v":2}]
  },
  "vconcat": [
    {
      "width": 1703, "height": 669,
      "resolve": {"scale": {"y": "independent"}, "axis": {"x": "independent", "y": "independent"}},
      "layer": [
        {"data": {"name": "shade"}, "mark": {"type": "rect", "fill": "#f4a6a6", "opacity": 0.17},
         "encoding": {"x": {"field": "a", "type": "quantitative", "scale": {"domain": [15.274, 20.52], "nice": false, "zero": false}, "axis": null}, "x2": {"field": "b"}}},
        {"data": {"name": "dark"}, "mark": {"type": "rect", "fill": "#a6a0a0", "opacity": 0.3},
         "encoding": {"x": {"field": "a", "type": "quantitative", "scale": {"domain": [15.274, 20.52], "nice": false, "zero": false}, "axis": null}, "x2": {"field": "b"}}},
        {"data": {"name": "vlines"}, "mark": {"type": "rule", "color": "black", "strokeWidth": 2},
         "encoding": {"x": {"field": "t", "type": "quantitative", "scale": {"domain": [15.274, 20.52], "nice": false, "zero": false}, "axis": null}}},
        {"data": {"name": "p1_pitch"}, "mark": {"type": "line", "color": "black", "strokeWidth": 4},
         "encoding": {"x": {"field": "t", "type": "quantitative", "scale": {"domain": [15.274, 20.52], "nice": false, "zero": false}, "axis": {"orient": "top", "values": [16,17,18,19,20], "labelExpr": "'2023:327:' + datum.value + ':00:00.000'", "labelAngle": 270, "labelAlign": "left", "labelBaseline": "middle", "labelFontSize": 16, "labelPadding": 8, "labelLimit": 400, "tickSize": 10, "tickWidth": 2, "title": null}},
                      "y": {"field": "v", "type": "quantitative", "scale": {"domain": [45.3, 180], "nice": false, "zero": false}, "axis": {"orient": "left", "values": [60,80,100,120,140,160,180], "title": "Pitch Angle"}}}},
        {"data": {"name": "p1_roll"}, "mark": {"type": "line", "color": "#ff7f0e", "strokeWidth": 3.5},
         "encoding": {"x": {"field": "t", "type": "quantitative", "scale": {"domain": [15.274, 20.52], "nice": false, "zero": false}, "axis": {"orient": "bottom", "values": [16,17,18,19,20], "grid": true, "gridColor": "#b0b0b0", "gridWidth": 2, "tickSize": 28, "tickWidth": 3, "labels": false, "title": null}},
                      "y": {"field": "v", "type": "quantitative", "scale": {"domain": [-4.71, 7.98], "nice": false, "zero": false}, "axis": {"orient": "right", "values": [-4,-2,0,2,4,6], "title": "Off Nominal Roll Angle", "labelColor": "#ff7f0e", "tickColor": "#ff7f0e", "titleColor": "#ff7f0e", "tickSize": 10, "tickWidth": 2, "labelPadding": 7, "titlePadding": 12}}}},
        {"data": {"name": "p1_label"}, "mark": {"type": "text", "angle": 270, "align": "left", "baseline": "middle", "fontWeight": "bold", "fontSize": 27, "clip": false},
         "encoding": {"x": {"field": "t", "type": "quantitative", "scale": {"domain": [15.274, 20.52], "nice": false, "zero": false}, "axis": {"orient": "bottom", "values": [15.5,16.5,17.5,18.5,19.5,20.5], "grid": true, "gridColor": "#b0b0b0", "gridWidth": 2, "gridDash": [8, 4.5], "tickSize": 7, "tickWidth": 2, "labels": false, "title": null}},
                      "y": {"field": "v", "type": "quantitative", "scale": {"domain": [45.3, 180], "nice": false, "zero": false}, "axis": null},
                      "text": {"field": "label"}}}
      ]
    },
    {
      "width": 1703, "height": 669,
      "resolve": {"axis": {"x": "independent", "y": "independent"}},
      "layer": [
        {"data": {"name": "shade"}, "mark": {"type": "rect", "fill": "#f4a6a6", "opacity": 0.17},
         "encoding": {"x": {"field": "a", "type": "quantitative", "scale": {"domain": [15.274, 20.52], "nice": false, "zero": false}, "axis": null}, "x2": {"field": "b"}}},
        {"data": {"name": "vlines"}, "mark": {"type": "rule", "color": "black", "strokeWidth": 2},
         "encoding": {"x": {"field": "t", "type": "quantitative", "scale": {"domain": [15.274, 20.52], "nice": false, "zero": false}, "axis": null}}},
        {"data": {"name": "p2_lim"}, "mark": {"type": "rule", "color": "#808080", "strokeWidth": 2},
         "encoding": {"y": {"field": "v", "type": "quantitative", "scale": {"domain": [-6.3, 10.15], "nice": false, "zero": false}, "axis": null}}},
        {"data": {"name": "p2_model"}, "mark": {"type": "line", "color": "#444444", "strokeWidth": 6},
         "encoding": {"x": {"field": "t", "type": "quantitative", "scale": {"domain": [15.274, 20.52], "nice": false, "zero": false}, "axis": {"orient": "bottom", "values": [16,17,18,19,20], "grid": true, "gridColor": "#b0b0b0", "gridWidth": 2, "tickSize": 28, "tickWidth": 3, "labels": false, "title": null}}, "y": {"field": "v", "type": "quantitative", "scale": {"domain": [-6.3, 10.15], "nice": false, "zero": false}, "axis": {"orient": "left", "values": [-6,-4,-2,0,2,4,6,8,10], "title": "Temperature"}}}},
        {"data": {"name": "p2_chtrpzt"}, "mark": {"type": "line", "interpolate": "step-after", "strokeWidth": 7},
         "encoding": {"x": {"field": "t", "type": "quantitative", "scale": {"domain": [15.274, 20.52], "nice": false, "zero": false}, "axis": {"orient": "bottom", "values": [15.5,16.5,17.5,18.5,19.5,20.5], "grid": true, "gridColor": "#b0b0b0", "gridWidth": 2, "gridDash": [8, 4.5], "tickSize": 7, "tickWidth": 2, "labels": false, "title": null}}, "y": {"field": "v", "type": "quantitative", "scale": {"domain": [-6.3, 10.15], "nice": false, "zero": false}, "axis": null},
                      "color": {"datum": "2CHTRPZT", "type": "nominal", "scale": {"domain": ["2CHTRPZT","2CEAHVPT","2DTSTATT","2DCENTRT"], "range": ["#1f77b4","#ff7f0e","#2ca02c","#d62728"]}, "legend": {"title": null, "orient": "top-left", "columns": 2, "columnPadding": 28}}}},
        {"data": {"name": "p2_ceahvpt"}, "mark": {"type": "line", "interpolate": "step-after", "strokeWidth": 7},
         "encoding": {"x": {"field": "t", "type": "quantitative", "scale": {"domain": [15.274, 20.52], "nice": false, "zero": false}, "axis": null}, "y": {"field": "v", "type": "quantitative", "scale": {"domain": [-6.3, 10.15], "nice": false, "zero": false}, "axis": null},
                      "color": {"datum": "2CEAHVPT", "type": "nominal", "scale": {"domain": ["2CHTRPZT","2CEAHVPT","2DTSTATT","2DCENTRT"], "range": ["#1f77b4","#ff7f0e","#2ca02c","#d62728"]}, "legend": null}}},
        {"data": {"name": "p2_dtstatt"}, "mark": {"type": "line", "interpolate": "step-after", "strokeWidth": 7},
         "encoding": {"x": {"field": "t", "type": "quantitative", "scale": {"domain": [15.274, 20.52], "nice": false, "zero": false}, "axis": null}, "y": {"field": "v", "type": "quantitative", "scale": {"domain": [-6.3, 10.15], "nice": false, "zero": false}, "axis": null},
                      "color": {"datum": "2DTSTATT", "type": "nominal", "scale": {"domain": ["2CHTRPZT","2CEAHVPT","2DTSTATT","2DCENTRT"], "range": ["#1f77b4","#ff7f0e","#2ca02c","#d62728"]}, "legend": null}}},
        {"data": {"name": "p2_dcentrt"}, "mark": {"type": "line", "interpolate": "step-after", "strokeWidth": 7},
         "encoding": {"x": {"field": "t", "type": "quantitative", "scale": {"domain": [15.274, 20.52], "nice": false, "zero": false}, "axis": null}, "y": {"field": "v", "type": "quantitative", "scale": {"domain": [-6.3, 10.15], "nice": false, "zero": false}, "axis": null},
                      "color": {"datum": "2DCENTRT", "type": "nominal", "scale": {"domain": ["2CHTRPZT","2CEAHVPT","2DTSTATT","2DCENTRT"], "range": ["#1f77b4","#ff7f0e","#2ca02c","#d62728"]}, "legend": null}}},
        {"data": {"name": "p2_box"}, "mark": {"type": "rect", "fill": "white", "stroke": "black", "strokeWidth": 2, "clip": false},
         "encoding": {"x": {"field": "t", "type": "quantitative", "scale": {"domain": [15.274, 20.52], "nice": false, "zero": false}, "axis": null}, "x2": {"field": "t2"}, "y": {"field": "v", "type": "quantitative", "scale": {"domain": [-6.3, 10.15], "nice": false, "zero": false}, "axis": null}, "y2": {"field": "v2"}}},
        {"data": {"name": "p2_note"}, "mark": {"type": "text", "align": "left", "baseline": "middle", "fontSize": 26, "clip": false},
         "encoding": {"x": {"field": "t", "type": "quantitative", "scale": {"domain": [15.274, 20.52], "nice": false, "zero": false}, "axis": null}, "y": {"field": "v", "type": "quantitative", "scale": {"domain": [-6.3, 10.15], "nice": false, "zero": false}, "axis": null}, "text": {"field": "label"}}}
      ]
    },
    {
      "width": 1703, "height": 669,
      "resolve": {"axis": {"x": "independent", "y": "independent"}},
      "layer": [
        {"data": {"name": "shade"}, "mark": {"type": "rect", "fill": "#f4a6a6", "opacity": 0.17},
         "encoding": {"x": {"field": "a", "type": "quantitative", "scale": {"domain": [15.274, 20.52], "nice": false, "zero": false}, "axis": null}, "x2": {"field": "b"}}},
        {"data": {"name": "vlines"}, "mark": {"type": "rule", "color": "black", "strokeWidth": 2},
         "encoding": {"x": {"field": "t", "type": "quantitative", "scale": {"domain": [15.274, 20.52], "nice": false, "zero": false}, "axis": null}}},
        {"data": {"name": "p3_lim"}, "mark": {"type": "rule", "color": "#808080", "strokeWidth": 2},
         "encoding": {"y": {"field": "v", "type": "quantitative", "scale": {"domain": [4.76, 13.5], "nice": false, "zero": false}, "axis": null}}},
        {"data": {"name": "p3_ceahvpt"}, "mark": {"type": "line", "interpolate": "step-after", "strokeWidth": 7},
         "encoding": {"x": {"field": "t", "type": "quantitative", "scale": {"domain": [15.274, 20.52], "nice": false, "zero": false}, "axis": {"orient": "bottom", "values": [16,17,18,19,20], "grid": true, "gridColor": "#b0b0b0", "gridWidth": 2, "tickSize": 28, "tickWidth": 3, "labels": false, "title": null}}, "y": {"field": "v", "type": "quantitative", "scale": {"domain": [4.76, 13.5], "nice": false, "zero": false}, "axis": {"orient": "left", "values": [5,6,7,8,9,10,11,12,13], "title": "Temperature"}},
                      "color": {"datum": "2CEAHVPT", "type": "nominal", "scale": {"domain": ["2CEAHVPT","Model"], "range": ["#1f77b4","#ff7f0e"]}, "legend": {"title": null}}}},
        {"data": {"name": "p3_model"}, "mark": {"type": "line", "strokeWidth": 4},
         "encoding": {"x": {"field": "t", "type": "quantitative", "scale": {"domain": [15.274, 20.52], "nice": false, "zero": false}, "axis": {"orient": "bottom", "values": [15.5,16.5,17.5,18.5,19.5,20.5], "grid": true, "gridColor": "#b0b0b0", "gridWidth": 2, "gridDash": [8, 4.5], "tickSize": 7, "tickWidth": 2, "labels": false, "title": null}}, "y": {"field": "v", "type": "quantitative", "scale": {"domain": [4.76, 13.5], "nice": false, "zero": false}, "axis": null},
                      "color": {"datum": "Model", "type": "nominal", "scale": {"domain": ["2CEAHVPT","Model"], "range": ["#1f77b4","#ff7f0e"]}, "legend": null}}}
      ]
    },
    {
      "width": 1703, "height": 669,
      "resolve": {"axis": {"x": "independent", "y": "independent"}},
      "layer": [
        {"data": {"name": "shade"}, "mark": {"type": "rect", "fill": "#f4a6a6", "opacity": 0.17},
         "encoding": {"x": {"field": "a", "type": "quantitative", "scale": {"domain": [15.274, 20.52], "nice": false, "zero": false}, "axis": null}, "x2": {"field": "b"}}},
        {"data": {"name": "vlines"}, "mark": {"type": "rule", "color": "black", "strokeWidth": 2},
         "encoding": {"x": {"field": "t", "type": "quantitative", "scale": {"domain": [15.274, 20.52], "nice": false, "zero": false}, "axis": null}}},
        {"data": {"name": "p4_tlev"}, "mark": {"type": "line", "strokeWidth": 6, "clip": true},
         "encoding": {"x": {"field": "t", "type": "quantitative", "scale": {"domain": [15.274, 20.52], "nice": false, "zero": false}, "axis": {"orient": "bottom", "values": [16,17,18,19,20], "grid": true, "gridColor": "#b0b0b0", "gridWidth": 2, "tickSize": 28, "tickWidth": 3, "labels": false, "title": null}},
                      "y": {"field": "v", "type": "quantitative", "scale": {"type": "log", "domain": [10, 61000], "nice": false}, "axis": {"orient": "left", "values": [10, 100, 1000, 10000], "labelExpr": "datum.value == 10 ? '10¹' : datum.value == 100 ? '10²' : datum.value == 1000 ? '10³' : '10⁴'", "title": "Rate"}},
                      "color": {"datum": "2TLEV1RT", "type": "nominal", "scale": {"domain": ["2TLEV1RT","2VLEV1RT","2SHEV1RT"], "range": ["#1f77b4","#ff7f0e","#2ca02c"]}, "legend": {"title": null, "symbolStrokeWidth": 3.5}}}},
        {"data": {"name": "p4_vlev"}, "transform": [{"filter": "datum.v < 1000"}], "mark": {"type": "line", "strokeWidth": 6, "clip": true},
         "encoding": {"x": {"field": "t", "type": "quantitative", "scale": {"domain": [15.274, 20.52], "nice": false, "zero": false}, "axis": {"orient": "bottom", "values": [15.5,16.5,17.5,18.5,19.5,20.5], "grid": true, "gridColor": "#b0b0b0", "gridWidth": 2, "gridDash": [8, 4.5], "tickSize": 7, "tickWidth": 2, "labels": false, "title": null}},
                      "y": {"field": "v", "type": "quantitative", "scale": {"type": "log", "domain": [10, 61000], "nice": false}, "axis": null},
                      "color": {"datum": "2VLEV1RT", "type": "nominal", "scale": {"domain": ["2TLEV1RT","2VLEV1RT","2SHEV1RT"], "range": ["#1f77b4","#ff7f0e","#2ca02c"]}, "legend": null}}},
        {"data": {"name": "p4_vlev"}, "mark": {"type": "line", "strokeWidth": 3.5, "clip": true},
         "encoding": {"x": {"field": "t", "type": "quantitative", "scale": {"domain": [15.274, 20.52], "nice": false, "zero": false}, "axis": null},
                      "y": {"field": "v", "type": "quantitative", "scale": {"type": "log", "domain": [10, 61000], "nice": false}, "axis": null},
                      "color": {"datum": "2VLEV1RT", "type": "nominal", "scale": {"domain": ["2TLEV1RT","2VLEV1RT","2SHEV1RT"], "range": ["#1f77b4","#ff7f0e","#2ca02c"]}, "legend": null}}},
        {"data": {"name": "p4_shev"}, "mark": {"type": "line", "strokeWidth": 4, "clip": true},
         "encoding": {"x": {"field": "t", "type": "quantitative", "scale": {"domain": [15.274, 20.52], "nice": false, "zero": false}, "axis": null},
                      "y": {"field": "v", "type": "quantitative", "scale": {"type": "log", "domain": [10, 61000], "nice": false}, "axis": {"orient": "left", "values": [20,30,40,50,60,70,80,90,200,300,400,500,600,700,800,900,2000,3000,4000,5000,6000,7000,8000,9000,20000,30000,40000,50000,60000], "labels": false, "tickSize": 7, "tickWidth": 2, "title": null}},
                      "detail": {"field": "g"},
                      "color": {"datum": "2SHEV1RT", "type": "nominal", "scale": {"domain": ["2TLEV1RT","2VLEV1RT","2SHEV1RT"], "range": ["#1f77b4","#ff7f0e","#2ca02c"]}, "legend": null}}}
      ]
    },
    {
      "width": 1703, "height": 669,
      "resolve": {"axis": {"x": "independent", "y": "independent"}},
      "layer": [
        {"data": {"name": "shade"}, "mark": {"type": "rect", "fill": "#f4a6a6", "opacity": 0.17},
         "encoding": {"x": {"field": "a", "type": "quantitative", "scale": {"domain": [15.274, 20.52], "nice": false, "zero": false}, "axis": null}, "x2": {"field": "b"}}},
        {"data": {"name": "vlines"}, "mark": {"type": "rule", "color": "black", "strokeWidth": 2},
         "encoding": {"x": {"field": "t", "type": "quantitative", "scale": {"domain": [15.274, 20.52], "nice": false, "zero": false}, "axis": null}}},
        {"data": {"name": "p5_p15"}, "mark": {"type": "line", "strokeWidth": 7},
         "encoding": {"x": {"field": "t", "type": "quantitative", "scale": {"domain": [15.274, 20.52], "nice": false, "zero": false}, "axis": {"orient": "bottom", "values": [16,17,18,19,20], "grid": true, "gridColor": "#b0b0b0", "gridWidth": 2, "tickSize": 28, "tickWidth": 3, "labels": false, "title": null}},
                      "y": {"field": "v", "type": "quantitative", "scale": {"domain": [-20, 20], "nice": false, "zero": false}, "axis": {"orient": "left", "values": [-20,-15,-10,-5,0,5,10,15,20], "title": "Volt"}},
                      "color": {"datum": "2P15VAVL", "type": "nominal", "scale": {"domain": ["2P15VAVL","2N15VAVL","2P05VAVL"], "range": ["#1f77b4","#ff7f0e","#2ca02c"]}, "legend": {"title": null}}}},
        {"data": {"name": "p5_n15"}, "mark": {"type": "line", "strokeWidth": 7},
         "encoding": {"x": {"field": "t", "type": "quantitative", "scale": {"domain": [15.274, 20.52], "nice": false, "zero": false}, "axis": {"orient": "bottom", "values": [15.5,16.5,17.5,18.5,19.5,20.5], "grid": true, "gridColor": "#b0b0b0", "gridWidth": 2, "gridDash": [8, 4.5], "tickSize": 7, "tickWidth": 2, "labels": false, "title": null}},
                      "y": {"field": "v", "type": "quantitative", "scale": {"domain": [-20, 20], "nice": false, "zero": false}, "axis": null},
                      "color": {"datum": "2N15VAVL", "type": "nominal", "scale": {"domain": ["2P15VAVL","2N15VAVL","2P05VAVL"], "range": ["#1f77b4","#ff7f0e","#2ca02c"]}, "legend": null}}},
        {"data": {"name": "p5_p05"}, "mark": {"type": "line", "strokeWidth": 7},
         "encoding": {"x": {"field": "t", "type": "quantitative", "scale": {"domain": [15.274, 20.52], "nice": false, "zero": false}, "axis": null},
                      "y": {"field": "v", "type": "quantitative", "scale": {"domain": [-20, 20], "nice": false, "zero": false}, "axis": null},
                      "color": {"datum": "2P05VAVL", "type": "nominal", "scale": {"domain": ["2P15VAVL","2N15VAVL","2P05VAVL"], "range": ["#1f77b4","#ff7f0e","#2ca02c"]}, "legend": null}}}
      ]
    },
    {
      "width": 1703, "height": 669,
      "resolve": {"axis": {"x": "independent", "y": "independent"}},
      "layer": [
        {"data": {"name": "shade"}, "mark": {"type": "rect", "fill": "#f4a6a6", "opacity": 0.17},
         "encoding": {"x": {"field": "a", "type": "quantitative", "scale": {"domain": [15.274, 20.52], "nice": false, "zero": false}, "axis": null}, "x2": {"field": "b"}}},
        {"data": {"name": "vlines"}, "mark": {"type": "rule", "color": "black", "strokeWidth": 2},
         "encoding": {"x": {"field": "t", "type": "quantitative", "scale": {"domain": [15.274, 20.52], "nice": false, "zero": false}, "axis": null}}},
        {"data": {"name": "p6_sphb"}, "mark": {"type": "point", "filled": true, "size": 90, "opacity": 1},
         "encoding": {"x": {"field": "t", "type": "quantitative", "scale": {"domain": [15.274, 20.52], "nice": false, "zero": false}, "axis": {"orient": "bottom", "values": [16,17,18,19,20], "grid": true, "gridColor": "#b0b0b0", "gridWidth": 2, "tickSize": 28, "tickWidth": 3, "labels": false, "title": null}},
                      "y": {"field": "v", "type": "quantitative", "scale": {"domain": [0, 266.3], "nice": false, "zero": false}, "axis": {"orient": "left", "values": [0,50,100,150,200,250], "title": "HV Monitor"}},
                      "color": {"datum": "2SPHBLV", "type": "nominal", "scale": {"domain": ["2SPHBLV","2SPHVLV","2IMHVLV","2IMHBLV"], "range": ["#1f77b4","#ff7f0e","#2ca02c","#d62728"]}, "legend": {"title": null, "symbolType": "circle", "symbolSize": 100, "symbolStrokeWidth": 0, "symbolOffset": 25, "labelOffset": 40, "rowPadding": 14}}}},
        {"data": {"name": "p6_sphv"}, "mark": {"type": "point", "filled": true, "size": 90, "opacity": 1},
         "encoding": {"x": {"field": "t", "type": "quantitative", "scale": {"domain": [15.274, 20.52], "nice": false, "zero": false}, "axis": {"orient": "bottom", "values": [15.5,16.5,17.5,18.5,19.5,20.5], "grid": true, "gridColor": "#b0b0b0", "gridWidth": 2, "gridDash": [8, 4.5], "tickSize": 7, "tickWidth": 2, "labels": false, "title": null}},
                      "y": {"field": "v", "type": "quantitative", "scale": {"domain": [0, 266.3], "nice": false, "zero": false}, "axis": null},
                      "color": {"datum": "2SPHVLV", "type": "nominal", "scale": {"domain": ["2SPHBLV","2SPHVLV","2IMHVLV","2IMHBLV"], "range": ["#1f77b4","#ff7f0e","#2ca02c","#d62728"]}, "legend": null}}},
        {"data": {"name": "p6_imhb"}, "mark": {"type": "point", "filled": true, "size": 90, "opacity": 1},
         "encoding": {"x": {"field": "t", "type": "quantitative", "scale": {"domain": [15.274, 20.52], "nice": false, "zero": false}, "axis": null},
                      "y": {"field": "v", "type": "quantitative", "scale": {"domain": [0, 266.3], "nice": false, "zero": false}, "axis": null},
                      "color": {"datum": "2IMHBLV", "type": "nominal", "scale": {"domain": ["2SPHBLV","2SPHVLV","2IMHVLV","2IMHBLV"], "range": ["#1f77b4","#ff7f0e","#2ca02c","#d62728"]}, "legend": null}}}
      ]
    },
    {
      "width": 1703, "height": 669,
      "resolve": {"axis": {"x": "independent", "y": "independent"}},
      "layer": [
        {"data": {"name": "shade"}, "mark": {"type": "rect", "fill": "#f4a6a6", "opacity": 0.17},
         "encoding": {"x": {"field": "a", "type": "quantitative", "scale": {"domain": [15.274, 20.52], "nice": false, "zero": false}, "axis": null}, "x2": {"field": "b"}}},
        {"data": {"name": "vlines"}, "mark": {"type": "rule", "color": "black", "strokeWidth": 2},
         "encoding": {"x": {"field": "t", "type": "quantitative", "scale": {"domain": [15.274, 20.52], "nice": false, "zero": false}, "axis": null}}},
        {"data": {"name": "p7_spin"}, "mark": {"type": "line", "interpolate": "step-after", "strokeWidth": 7, "clip": true},
         "encoding": {"x": {"field": "t", "type": "quantitative", "scale": {"domain": [15.274, 20.52], "nice": false, "zero": false}, "axis": {"orient": "bottom", "values": [16,17,18,19,20], "grid": true, "gridColor": "#b0b0b0", "gridWidth": 2, "tickSize": 28, "tickWidth": 3, "labels": false, "title": null}},
                      "y": {"field": "v", "type": "quantitative", "scale": {"domain": [-0.44, 20.76], "nice": false, "zero": false}, "axis": {"orient": "left", "values": [0,2.5,5,7.5,10,12.5,15,17.5,20], "format": ".1f", "title": "Detector Temp"}},
                      "color": {"datum": "2SPINATM", "type": "nominal", "scale": {"domain": ["2SPINATM","2SPHVATM","2IMINATM","2IMHVATM"], "range": ["#1f77b4","#ff7f0e","#2ca02c","#d62728"]}, "legend": {"title": null}}}},
        {"data": {"name": "p7_sphv"}, "mark": {"type": "line", "interpolate": "step-after", "strokeWidth": 7, "clip": true},
         "encoding": {"x": {"field": "t", "type": "quantitative", "scale": {"domain": [15.274, 20.52], "nice": false, "zero": false}, "axis": {"orient": "bottom", "values": [15.5,16.5,17.5,18.5,19.5,20.5], "grid": true, "gridColor": "#b0b0b0", "gridWidth": 2, "gridDash": [8, 4.5], "tickSize": 7, "tickWidth": 2, "labels": false, "title": null}},
                      "y": {"field": "v", "type": "quantitative", "scale": {"domain": [-0.44, 20.76], "nice": false, "zero": false}, "axis": null},
                      "color": {"datum": "2SPHVATM", "type": "nominal", "scale": {"domain": ["2SPINATM","2SPHVATM","2IMINATM","2IMHVATM"], "range": ["#1f77b4","#ff7f0e","#2ca02c","#d62728"]}, "legend": null}}},
        {"data": {"name": "p7_imin"}, "mark": {"type": "line", "interpolate": "step-after", "strokeWidth": 7, "clip": true},
         "encoding": {"x": {"field": "t", "type": "quantitative", "scale": {"domain": [15.274, 20.52], "nice": false, "zero": false}, "axis": null},
                      "y": {"field": "v", "type": "quantitative", "scale": {"domain": [-0.44, 20.76], "nice": false, "zero": false}, "axis": null},
                      "color": {"datum": "2IMINATM", "type": "nominal", "scale": {"domain": ["2SPINATM","2SPHVATM","2IMINATM","2IMHVATM"], "range": ["#1f77b4","#ff7f0e","#2ca02c","#d62728"]}, "legend": null}}},
        {"data": {"name": "p7_imhv"}, "mark": {"type": "line", "interpolate": "step-after", "strokeWidth": 7, "clip": true},
         "encoding": {"x": {"field": "t", "type": "quantitative", "scale": {"domain": [15.274, 20.52], "nice": false, "zero": false}, "axis": null},
                      "y": {"field": "v", "type": "quantitative", "scale": {"domain": [-0.44, 20.76], "nice": false, "zero": false}, "axis": null},
                      "color": {"datum": "2IMHVATM", "type": "nominal", "scale": {"domain": ["2SPINATM","2SPHVATM","2IMINATM","2IMHVATM"], "range": ["#1f77b4","#ff7f0e","#2ca02c","#d62728"]}, "legend": null}}}
      ]
    },
    {
      "width": 1703, "height": 669,
      "resolve": {"axis": {"x": "independent", "y": "independent"}},
      "layer": [
        {"data": {"name": "shade"}, "mark": {"type": "rect", "fill": "#f4a6a6", "opacity": 0.17},
         "encoding": {"x": {"field": "a", "type": "quantitative", "scale": {"domain": [15.274, 20.52], "nice": false, "zero": false}, "axis": null}, "x2": {"field": "b"}}},
        {"data": {"name": "vlines"}, "mark": {"type": "rule", "color": "black", "strokeWidth": 2},
         "encoding": {"x": {"field": "t", "type": "quantitative", "scale": {"domain": [15.274, 20.52], "nice": false, "zero": false}, "axis": null}}},
        {"data": {"name": "p8_fhtr"}, "mark": {"type": "line", "interpolate": "step-after", "strokeWidth": 7, "clip": true},
         "encoding": {"x": {"field": "t", "type": "quantitative", "scale": {"domain": [15.274, 20.52], "nice": false, "zero": false}, "axis": {"orient": "bottom", "values": [16,17,18,19,20], "grid": true, "gridColor": "#b0b0b0", "gridWidth": 2, "tickSize": 28, "tickWidth": 3, "labels": true, "labelExpr": "(datum.value - 5) + 'h'", "labelFontSize": 26, "labelPadding": 10, "title": "2023-11-23 (327)", "titleFontSize": 32, "titlePadding": 4}},
                      "y": {"field": "v", "type": "quantitative", "scale": {"domain": [-10.72, 0.68], "nice": false, "zero": false}, "axis": {"orient": "left", "values": [-10,-8,-6,-4,-2,0], "title": "FEA Temp"}},
                      "color": {"datum": "2FHTRMZT", "type": "nominal", "scale": {"domain": ["2FHTRMZT","2FRADPYT","2FEPRATM","2FE00ATM"], "range": ["#1f77b4","#ff7f0e","#2ca02c","#d62728"]}, "legend": {"title": null}}}},
        {"data": {"name": "p8_frad"}, "mark": {"type": "line", "interpolate": "step-after", "strokeWidth": 7, "clip": true},
         "encoding": {"x": {"field": "t", "type": "quantitative", "scale": {"domain": [15.274, 20.52], "nice": false, "zero": false}, "axis": {"orient": "bottom", "values": [15.5,16.5,17.5,18.5,19.5,20.5], "grid": true, "gridColor": "#b0b0b0", "gridWidth": 2, "gridDash": [8, 4.5], "tickSize": 7, "tickWidth": 2, "labels": true, "labelExpr": "'30'", "labelFontSize": 16, "labelPadding": 5, "title": null}},
                      "y": {"field": "v", "type": "quantitative", "scale": {"domain": [-10.72, 0.68], "nice": false, "zero": false}, "axis": null},
                      "color": {"datum": "2FRADPYT", "type": "nominal", "scale": {"domain": ["2FHTRMZT","2FRADPYT","2FEPRATM","2FE00ATM"], "range": ["#1f77b4","#ff7f0e","#2ca02c","#d62728"]}, "legend": null}}},
        {"data": {"name": "p8_fepr"}, "mark": {"type": "line", "interpolate": "step-after", "strokeWidth": 7, "clip": true},
         "encoding": {"x": {"field": "t", "type": "quantitative", "scale": {"domain": [15.274, 20.52], "nice": false, "zero": false}, "axis": null},
                      "y": {"field": "v", "type": "quantitative", "scale": {"domain": [-10.72, 0.68], "nice": false, "zero": false}, "axis": null},
                      "color": {"datum": "2FEPRATM", "type": "nominal", "scale": {"domain": ["2FHTRMZT","2FRADPYT","2FEPRATM","2FE00ATM"], "range": ["#1f77b4","#ff7f0e","#2ca02c","#d62728"]}, "legend": null}}},
        {"data": {"name": "p8_fe00"}, "mark": {"type": "line", "interpolate": "step-after", "strokeWidth": 7, "clip": true},
         "encoding": {"x": {"field": "t", "type": "quantitative", "scale": {"domain": [15.274, 20.52], "nice": false, "zero": false}, "axis": null},
                      "y": {"field": "v", "type": "quantitative", "scale": {"domain": [-10.72, 0.68], "nice": false, "zero": false}, "axis": null},
                      "color": {"datum": "2FE00ATM", "type": "nominal", "scale": {"domain": ["2FHTRMZT","2FRADPYT","2FEPRATM","2FE00ATM"], "range": ["#1f77b4","#ff7f0e","#2ca02c","#d62728"]}, "legend": null}}}
      ]
    }
  ]
}
